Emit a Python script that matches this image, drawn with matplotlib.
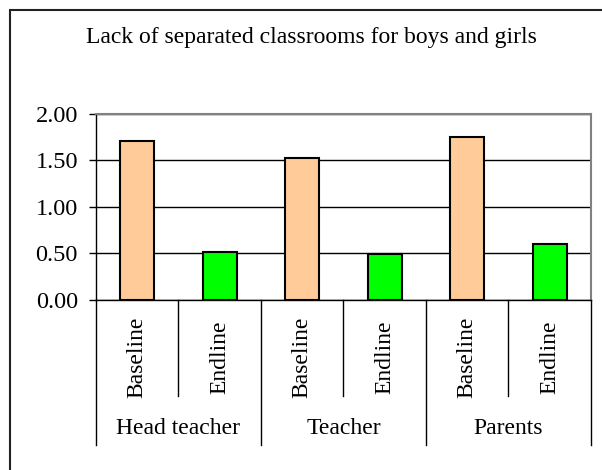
import numpy as np
import matplotlib.pyplot as plt
from matplotlib.patches import Rectangle
import matplotlib.transforms as mtransforms

plt.rcParams['font.family'] = ['Liberation Serif', 'DejaVu Serif']

title = "Lack of separated classrooms for boys and girls"
groups = ["Head teacher", "Teacher", "Parents"]
phases = ["Baseline", "Endline"]
values = [1.71, 0.51, 1.52, 0.49, 1.75, 0.60]
colors = ["#FFCC99", "#00FF00"]

fig = plt.figure(figsize=(6.02, 4.70), dpi=100)
ax = fig.add_axes([0.1595, 0.3617, 0.822, 0.3966])

x = np.arange(len(values))
barColors = [colors[i % 2] for i in range(len(values))]
ax.bar(x, values, width=0.41, color=barColors, edgecolor="black", linewidth=1.5, zorder=3)

ax.set_xlim(-0.5, len(values) - 0.5)
ax.set_ylim(0, 2.0)
ax.set_yticks([0, 0.5, 1.0, 1.5, 2.0])
ax.set_yticklabels(["%.2f" % v for v in [0, 0.5, 1.0, 1.5, 2.0]], fontsize=17.5)
ax.tick_params(axis="y", length=5, width=1, color="black", pad=8)
ax.set_xticks([])
ax.yaxis.grid(True, color="black", linewidth=1)
ax.set_axisbelow(True)

# frame: gray top/right, black left/bottom
ax.spines["top"].set_color("#808080")
ax.spines["right"].set_color("#808080")
ax.spines["top"].set_linewidth(1.5)
ax.spines["right"].set_linewidth(1.5)
ax.spines["left"].set_linewidth(1)
ax.spines["bottom"].set_linewidth(1)

# category axis below the plot, drawn like a table
trans = mtransforms.blended_transform_factory(ax.transData, ax.transAxes)
for i in range(len(values) + 1):
    xs = i - 0.5
    bottom = -0.778 if i % 2 == 0 else -0.515
    ax.plot([xs, xs], [0, bottom], color="black", linewidth=1, transform=trans, clip_on=False)

for i in range(len(values)):
    ax.text(i, -0.305, phases[i % 2], rotation=90, ha="center", va="center",
            fontsize=17, transform=trans)

for g, name in enumerate(groups):
    ax.text(2 * g + 0.5, -0.69, name, ha="center", va="center", fontsize=17, transform=trans)

fig.text(0.5166, 0.921, title, ha="center", va="center", fontsize=17)

# outer chart border
fig.patches.append(Rectangle((10 / 602, -0.1), 1.0, 0.1 + (470 - 9.5) / 470, transform=fig.transFigure,
                             fill=False, edgecolor="#222222", linewidth=1.5))

fig.savefig("out.png", dpi=100)
